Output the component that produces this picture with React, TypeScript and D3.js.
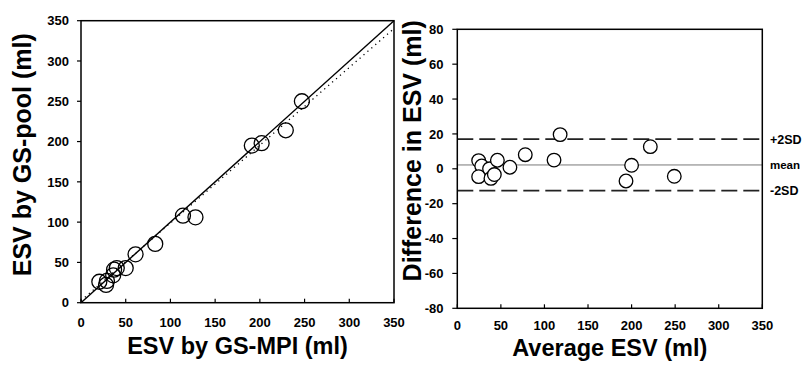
import React from "react";
import * as d3 from "d3";

const mpiESV = [20.5, 28, 29, 36, 37, 40, 50, 61, 83, 114, 128, 191, 202, 229, 247];
const poolESV = [26, 22, 27, 34, 41, 43, 43, 60, 73, 108, 106, 195, 198, 214, 250];

const avgESV = [24.5, 28, 24.5, 37, 38.6, 42.5, 46, 60.4, 78, 111, 118, 193.6, 200, 221.5, 249];
const diffESV = [4.7, 1.6, -4.5, 0, -5.5, -3.3, 4.9, 0.9, 8.1, 5, 19.6, -7, 2, 12.7, -4.3];

const leftTicks = [0, 50, 100, 150, 200, 250, 300, 350];
const rightXTicks = [0, 50, 100, 150, 200, 250, 300, 350];
const rightYTicks = [-80, -60, -40, -20, 0, 20, 40, 60, 80];

const regression = { slope: 0.965, intercept: 2.5 };
const blandAltman = { upper: 17, mean: 2.2, lower: -12.5 };
const limitLabels = ["+2SD", "mean", "-2SD"];

const FONT = "'Liberation Sans', Arial, Helvetica, sans-serif";

export default function App() {
  const lx = d3.scaleLinear().domain([0, 350]).range([81, 394]);
  const ly = d3.scaleLinear().domain([0, 350]).range([302.7, 20.7]);
  const rx = d3.scaleLinear().domain([0, 350]).range([457.3, 762.3]);
  const ry = d3.scaleLinear().domain([-80, 80]).range([308.3, 29.3]);

  const line = d3.line<[number, number]>().x((d) => lx(d[0])).y((d) => ly(d[1]));
  const identity = line([[0, 0], [350, 350]]) || "";
  const regPath =
    line([
      [0, regression.intercept],
      [350, regression.slope * 350 + regression.intercept],
    ]) || "";

  const limitVals = [blandAltman.upper, blandAltman.mean, blandAltman.lower];

  return (
    <svg
      width={805}
      height={367}
      style={{ position: "absolute", left: 0, top: 0, background: "#fff" }}
      fontFamily={FONT}
      fontWeight="bold"
    >
      <rect x={0} y={0} width={805} height={367} fill="#fff" />
      {/* ===== Left panel ===== */}
      <g>
        <path d={regPath} stroke="#000" strokeWidth={1.3} strokeDasharray="1.2,4" fill="none" />
        <path d={identity} stroke="#000" strokeWidth={1.4} fill="none" />
        {mpiESV.map((v, i) => (
          <circle key={i} cx={lx(v)} cy={ly(poolESV[i])} r={7.5} fill="none" stroke="#000" strokeWidth={1.3} />
        ))}
        <rect x={lx(0)} y={ly(350)} width={lx(350) - lx(0)} height={ly(0) - ly(350)} fill="none" stroke="#000" strokeWidth={1.5} />
        {leftTicks.map((t) => (
          <g key={"ly" + t}>
            <line x1={lx(0) - 4} x2={lx(0)} y1={ly(t)} y2={ly(t)} stroke="#000" strokeWidth={1.2} />
            <text x={69} y={ly(t)} dy="0.36em" textAnchor="end" fontSize={13}>
              {t}
            </text>
          </g>
        ))}
        {leftTicks.map((t) => (
          <g key={"lx" + t}>
            <line x1={lx(t)} x2={lx(t)} y1={ly(0)} y2={ly(0) - 4} stroke="#000" strokeWidth={1.2} />
            <text x={lx(t)} y={322.5} dy="0.36em" textAnchor="middle" fontSize={13}>
              {t}
            </text>
          </g>
        ))}
        <text x={(lx(0) + lx(350)) / 2} y={354} textAnchor="middle" fontSize={23.5}>
          ESV by GS-MPI (ml)
        </text>
        <text
          transform={`translate(31, ${(ly(0) + ly(350)) / 2 - 7}) rotate(-90)`}
          textAnchor="middle"
          fontSize={25}
        >
          ESV by GS-pool (ml)
        </text>
      </g>

      {/* ===== Right panel ===== */}
      <g>
        <line x1={rx(0)} x2={rx(350)} y1={ry(blandAltman.mean)} y2={ry(blandAltman.mean)} stroke="#555" strokeWidth={0.8} />
        {[blandAltman.upper, blandAltman.lower].map((v, i) => (
          <line key={"lim" + i} x1={rx(0)} x2={rx(350)} y1={ry(v)} y2={ry(v)} stroke="#222" strokeWidth={1.6} strokeDasharray="16,6" />
        ))}
        {avgESV.map((v, i) => (
          <circle key={i} cx={rx(v)} cy={ry(diffESV[i])} r={6.8} fill="#fff" stroke="#000" strokeWidth={1.3} />
        ))}
        <rect x={rx(0)} y={ry(80)} width={rx(350) - rx(0)} height={ry(-80) - ry(80)} fill="none" stroke="#000" strokeWidth={1.5} />
        {rightYTicks.map((t) => (
          <g key={"ry" + t}>
            <line x1={rx(0) - 5} x2={rx(0)} y1={ry(t)} y2={ry(t)} stroke="#000" strokeWidth={1.2} />
            <text x={443.5} y={ry(t)} dy="0.36em" textAnchor="end" fontSize={13}>
              {t}
            </text>
          </g>
        ))}
        {rightXTicks.map((t) => (
          <g key={"rx" + t}>
            <line x1={rx(t)} x2={rx(t)} y1={ry(-80)} y2={ry(-80) - 4} stroke="#000" strokeWidth={1.2} />
            <text x={rx(t)} y={325} dy="0.36em" textAnchor="middle" fontSize={13}>
              {t}
            </text>
          </g>
        ))}
        {limitLabels.map((lab, i) => (
          <text key={lab} x={770} y={ry(limitVals[i])} dy="0.36em" textAnchor="start" fontSize={i === 1 ? 11.5 : 12.5}>
            {lab}
          </text>
        ))}
        <text x={(rx(0) + rx(350)) / 2} y={355.5} textAnchor="middle" fontSize={23.5}>
          Average ESV (ml)
        </text>
        <text
          transform={`translate(421, ${(ry(-80) + ry(80)) / 2 - 18}) rotate(-90)`}
          textAnchor="middle"
          fontSize={25}
        >
          Difference in ESV (ml)
        </text>
      </g>
    </svg>
  );
}
